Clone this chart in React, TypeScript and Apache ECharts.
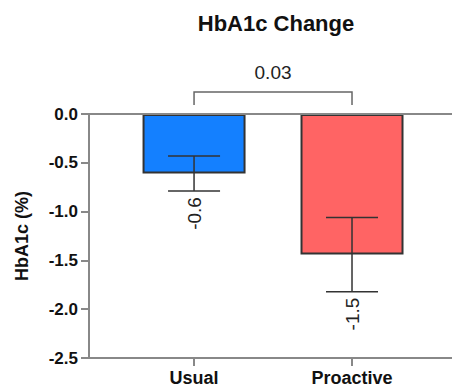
import React, { useEffect, useRef } from "react";
import * as echarts from "echarts";

const categories = ["Usual", "Proactive"];
const means = [-0.61, -1.44];
const errors = [0.18, 0.38];
const valueLabels = ["-0.6", "-1.5"];
const barColors = ["#1480FF", "#FF6464"];
const yTicks = [0, -0.5, -1.0, -1.5, -2.0, -2.5];
const sigPair = [0, 1];
const sigLabel = "0.03";

const FONT = "Liberation Sans, Arial, Helvetica, sans-serif";

export default function App() {
  const ref = useRef<HTMLDivElement>(null);
  useEffect(() => {
    if (!ref.current) return;
    const chart = echarts.init(ref.current, undefined, { renderer: "svg" });
    const barData = means.map((m, i) => ({
      value: [i, m],
      itemStyle: { color: barColors[i], borderColor: "#333", borderWidth: 2 },
    }));
    const errData = means.map((m, i) => [i, m - errors[i], m + errors[i]]);
    chart.setOption({
      animation: false,
      title: {
        text: "HbA1c Change",
        left: 271,
        textAlign: "center",
        top: 7,
        textStyle: { fontFamily: FONT, fontSize: 22, fontWeight: "bold", color: "#111" },
      },
      grid: { left: 89, right: 0, top: 114, bottom: 32, containLabel: false },
      xAxis: {
        type: "value",
        min: -0.665,
        max: 1.633,
        splitLine: { show: false },
        axisLine: { show: true, onZero: false, lineStyle: { color: "#888", width: 2 } },
        axisTick: {
          show: true,
          length: 8,
          customValues: [0, 1],
          lineStyle: { color: "#888", width: 2 },
        },
        axisLabel: {
          customValues: [0, 1],
          margin: 11,
          formatter: (v: number) => categories[Math.round(v)] ?? "",
          fontFamily: FONT,
          fontSize: 18,
          fontWeight: "bold",
          color: "#111",
        },
      },
      yAxis: {
        type: "value",
        min: -2.5,
        max: 0,
        interval: 0.5,
        name: "HbA1c (%)",
        nameLocation: "middle",
        nameGap: 58,
        nameTextStyle: { fontFamily: FONT, fontSize: 18, fontWeight: "bold", color: "#111" },
        splitLine: { show: false },
        axisLine: { show: true, onZero: false, lineStyle: { color: "#888", width: 2 } },
        axisTick: { show: true, length: 8, lineStyle: { color: "#888", width: 2 } },
        axisLabel: {
          margin: 11,
          customValues: yTicks,
          formatter: (v: number) => v.toFixed(1),
          fontFamily: FONT,
          fontSize: 17,
          fontWeight: "bold",
          color: "#111",
        },
      },
      series: [
        {
          type: "bar",
          data: barData,
          barWidth: 103,
          markLine: {
            silent: true,
            symbol: "none",
            label: { show: false },
            lineStyle: { color: "#888", width: 2, type: "solid" },
            data: [{ yAxis: 0 }],
          },
          z: 2,
        },
        {
          type: "custom",
          data: errData,
          z: 5,
          clip: false,
          renderItem: (params: any, api: any) => {
            const x = api.value(0);
            const lo = api.coord([x, api.value(1)]);
            const hi = api.coord([x, api.value(2)]);
            const cw = 26;
            const st = { stroke: "#333", lineWidth: 1.5 };
            const idx = params.dataIndex;
            return {
              type: "group",
              children: [
                { type: "line", shape: { x1: lo[0], y1: lo[1], x2: hi[0], y2: hi[1] }, style: st },
                { type: "line", shape: { x1: lo[0] - cw, y1: lo[1], x2: lo[0] + cw, y2: lo[1] }, style: st },
                { type: "line", shape: { x1: hi[0] - cw, y1: hi[1], x2: hi[0] + cw, y2: hi[1] }, style: st },
                {
                  type: "text",
                  x: lo[0],
                  y: lo[1] + 6,
                  rotation: Math.PI / 2,
                  style: {
                    text: valueLabels[idx],
                    fontFamily: FONT,
                    fontSize: 19,
                    fill: "#222",
                    align: "right",
                    verticalAlign: "middle",
                  },
                },
              ],
            };
          },
        },
        {
          type: "custom",
          data: [sigPair],
          z: 5,
          clip: false,
          renderItem: (params: any, api: any) => {
            const a = api.coord([api.value(0), 0]);
            const b = api.coord([api.value(1), 0]);
            const yTop = a[1] - 22;
            const yLeg = a[1] - 9;
            const st = { stroke: "#666", lineWidth: 1.5, fill: "none" };
            return {
              type: "group",
              children: [
                {
                  type: "polyline",
                  shape: { points: [[a[0], yLeg], [a[0], yTop], [b[0], yTop], [b[0], yLeg]] },
                  style: st,
                },
                {
                  type: "text",
                  x: (a[0] + b[0]) / 2,
                  y: yTop - 20,
                  style: {
                    text: sigLabel,
                    fontFamily: FONT,
                    fontSize: 19,
                    fill: "#222",
                    align: "center",
                    verticalAlign: "middle",
                  },
                },
              ],
            };
          },
        },
      ],
    });
    return () => chart.dispose();
  }, []);
  return (
    <div
      ref={ref}
      style={{ position: "fixed", left: 0, top: 0, width: 452, height: 390, background: "#fff" }}
    />
  );
}
